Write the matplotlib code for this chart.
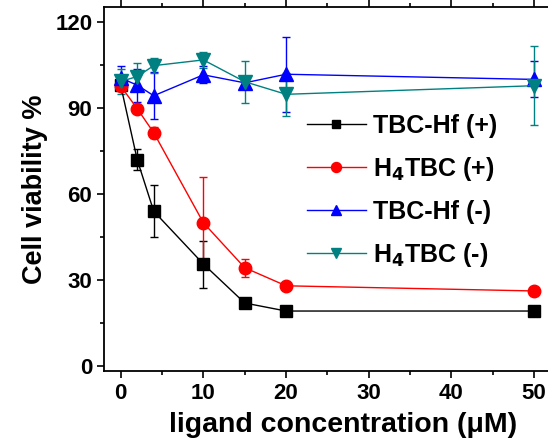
import numpy as np
import matplotlib.pyplot as plt
from matplotlib.ticker import MultipleLocator
from matplotlib.lines import Line2D

plt.rcParams['font.family'] = ['Liberation Sans', 'DejaVu Sans']
plt.rcParams['font.weight'] = 'bold'
plt.rcParams['mathtext.default'] = 'bf'

# concentrations (uM)
conc = [0, 2, 4, 10, 15, 20, 50]

hf_plus = [98, 72, 54, 35.6, 22, 19.2, 19.2]
hf_plus_err = [1, 3.6, 9, 8.2, 1, 0.8, 0.8]

h4_plus = [97.7, 89.8, 81.4, 50, 34.3, 28, 26.2]
h4_plus_err = [1, 1, 2, 16, 3.2, 0.8, 0.8]

hf_minus = [100.5, 98, 94.3, 101.6, 98.8, 101.8, 100]
hf_minus_err = [4.3, 5.8, 8.2, 3, 1.5, 13, 6.3]

h4_minus = [99.3, 101, 104.8, 106.8, 99.2, 94.8, 97.8]
h4_minus_err = [4.5, 4.6, 2.6, 2.8, 7.3, 7.4, 13.8]

series = [
    (hf_plus, hf_plus_err, 'black', 's', 8, 'TBC-Hf (+)'),
    (h4_plus, h4_plus_err, '#ff0000', 'o', 9, 'H$_4$TBC (+)'),
    (hf_minus, hf_minus_err, '#0000ff', '^', 9.5, 'TBC-Hf (-)'),
    (h4_minus, h4_minus_err, '#008080', 'v', 9.5, 'H$_4$TBC (-)'),
]

fig = plt.figure(figsize=(5.48, 4.48), dpi=100)
ax = fig.add_axes([0.190, 0.172, 0.815, 0.812])

handles = []
for y, err, c, m, ms, lab in series:
    ax.errorbar(conc, y, yerr=err, color=c, marker=m, markersize=ms, lw=1,
                elinewidth=1, capsize=3, capthick=1)
    handles.append(Line2D([], [], color=c, marker=m, markersize=ms * 0.8, lw=1, label=lab))

ax.set_xlim(-2, 52)
ax.set_ylim(-1.7, 125.2)
ax.xaxis.set_major_locator(MultipleLocator(10))
ax.xaxis.set_minor_locator(MultipleLocator(5))
ax.yaxis.set_major_locator(MultipleLocator(30))
ax.yaxis.set_minor_locator(MultipleLocator(15))
ax.tick_params(which='both', direction='out', width=1.2, labelsize=16, top=True)
ax.tick_params(which='major', length=5)
ax.tick_params(which='minor', length=3)
for s in ax.spines.values():
    s.set_linewidth(1.3)

ax.set_xlabel('ligand concentration (\u03bcM)', fontsize=20.5, fontweight='bold')
ax.xaxis.set_label_coords(0.535, -0.112)
ax.set_ylabel('Cell viability %', fontsize=19.5, fontweight='bold', labelpad=5)

fig.legend(handles=handles, loc='upper left', bbox_to_anchor=(0.560, 0.745),
           frameon=False, handlelength=2.36, labelspacing=0.68, handletextpad=0.28,
           borderpad=0, borderaxespad=0, prop={'weight': 'bold', 'size': 18})

fig.savefig('out.png', dpi=100)
